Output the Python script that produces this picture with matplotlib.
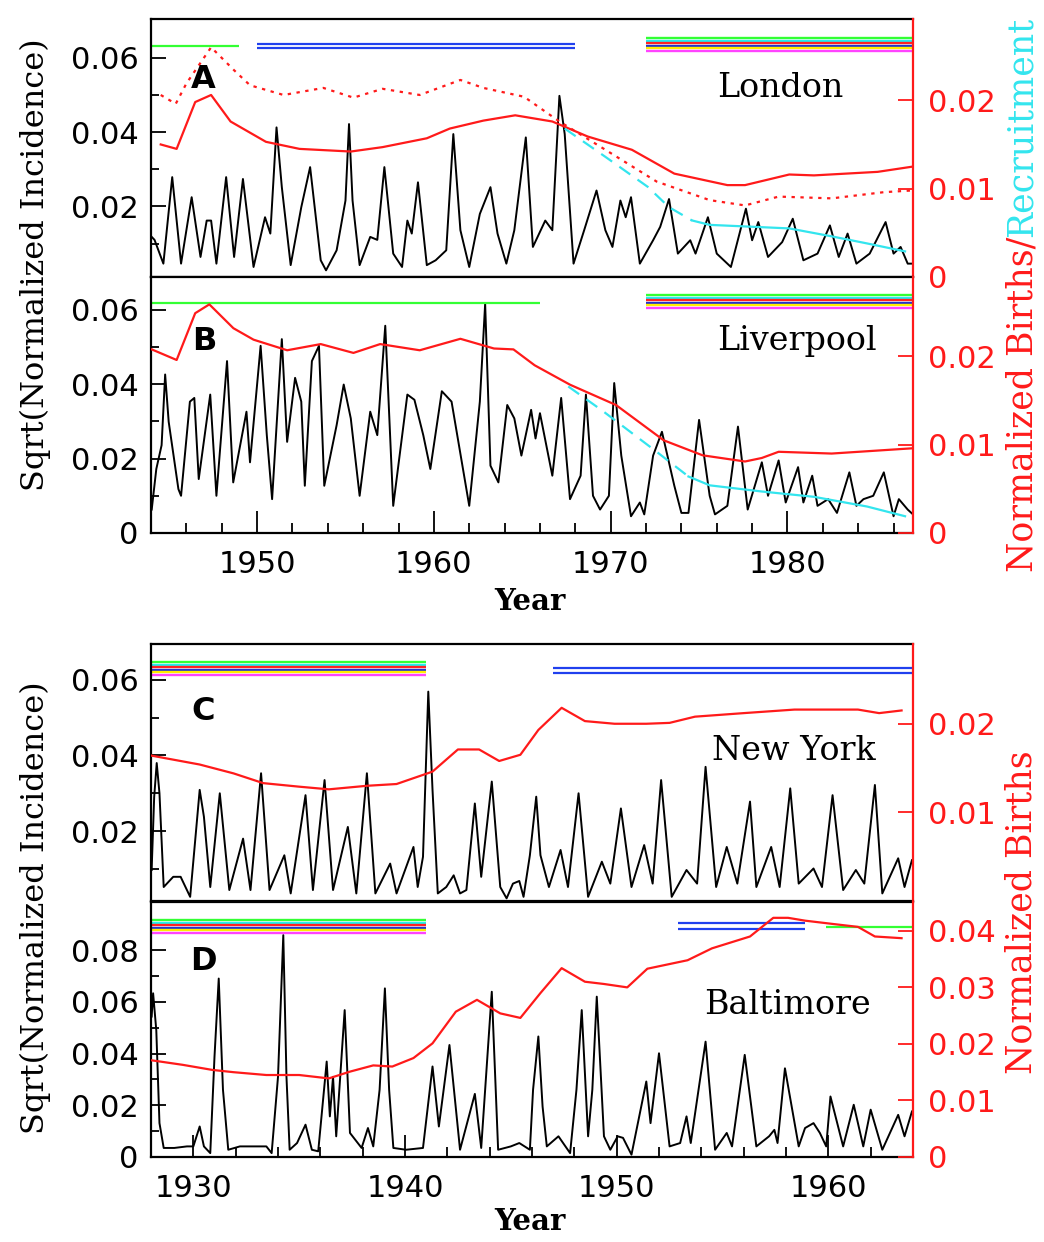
import matplotlib
matplotlib.use("Agg")
import matplotlib.pyplot as plt
from matplotlib.ticker import MultipleLocator, FixedLocator, FuncFormatter
from matplotlib.transforms import blended_transform_factory

# ---------------- data ----------------
# sqrt(normalized incidence), key points of each biweekly series
london_inc = [
    (1944.04, 0.0118), (1944.2, 0.011), (1944.7, 0.0046), (1945.2, 0.0279), (1945.7, 0.0046),
    (1946.3, 0.0225), (1946.8, 0.0064), (1947.15, 0.0162), (1947.4, 0.0162), (1947.7, 0.0046),
    (1948.25, 0.0279), (1948.7, 0.0064), (1949.2, 0.0274), (1949.8, 0.0037), (1950.45, 0.0171),
    (1950.75, 0.0127), (1951.1, 0.0413), (1951.4, 0.0252), (1951.9, 0.0042), (1952.5, 0.0198),
    (1953.0, 0.0306), (1953.6, 0.0055), (1953.9, 0.0028), (1954.5, 0.0082), (1955.0, 0.0216),
    (1955.2, 0.0422), (1955.4, 0.0216), (1955.8, 0.0042), (1956.4, 0.0118), (1956.8, 0.011),
    (1957.2, 0.0306), (1957.7, 0.0073), (1958.2, 0.0037), (1958.5, 0.0162), (1958.75, 0.0127),
    (1959.1, 0.0265), (1959.6, 0.0042), (1960.1, 0.0055), (1960.7, 0.0082), (1961.1, 0.0395),
    (1961.5, 0.0136), (1962.0, 0.0037), (1962.6, 0.018), (1963.2, 0.0252), (1963.6, 0.0127),
    (1964.1, 0.0046), (1964.55, 0.0136), (1965.2, 0.0386), (1965.6, 0.0091), (1966.3, 0.0162),
    (1966.7, 0.0136), (1967.1, 0.0498), (1967.4, 0.0395), (1967.9, 0.0046), (1968.5, 0.0136),
    (1969.2, 0.0243), (1969.7, 0.0136), (1970.1, 0.0091), (1970.55, 0.0216), (1970.85, 0.0171),
    (1971.15, 0.0225), (1971.65, 0.0046), (1972.4, 0.0109), (1972.8, 0.0145), (1973.3, 0.022),
    (1973.8, 0.0073), (1974.5, 0.0109), (1974.8, 0.0073), (1975.5, 0.0171), (1976.0, 0.0073),
    (1976.8, 0.0037), (1977.65, 0.0194), (1978.0, 0.0109), (1978.35, 0.0158), (1978.9, 0.0064),
    (1979.7, 0.0104), (1980.3, 0.0167), (1980.9, 0.0055), (1981.7, 0.0073), (1982.4, 0.0149),
    (1982.9, 0.0064), (1983.4, 0.0127), (1983.9, 0.0046), (1984.65, 0.0073), (1985.55, 0.0158),
    (1986.0, 0.0073), (1986.4, 0.0091), (1986.8, 0.0046), (1987.1, 0.0046),
]
liverpool_inc = [
    (1944.04, 0.0063), (1944.3, 0.0172), (1944.6, 0.0236), (1944.8, 0.0426), (1945.0, 0.0299),
    (1945.55, 0.0118), (1945.7, 0.01), (1946.2, 0.0353), (1946.45, 0.0363), (1946.7, 0.0145),
    (1947.35, 0.0372), (1947.7, 0.01), (1948.3, 0.0462), (1948.65, 0.0136), (1949.4, 0.0326),
    (1949.6, 0.019), (1950.2, 0.0503), (1950.55, 0.0263), (1950.85, 0.0091), (1951.4, 0.0521),
    (1951.7, 0.0245), (1952.15, 0.0417), (1952.5, 0.0353), (1952.7, 0.0127), (1953.1, 0.0462),
    (1953.5, 0.0503), (1953.8, 0.0127), (1954.5, 0.029), (1954.9, 0.0399), (1955.3, 0.0308),
    (1955.8, 0.01), (1956.4, 0.0326), (1956.8, 0.0263), (1957.25, 0.0557), (1957.7, 0.0073),
    (1958.5, 0.0372), (1958.9, 0.0358), (1959.4, 0.0263), (1959.8, 0.0172), (1960.45, 0.0381),
    (1961.0, 0.0353), (1962.0, 0.0073), (1962.6, 0.0353), (1962.9, 0.0616), (1963.2, 0.0181),
    (1963.65, 0.0136), (1964.15, 0.0344), (1964.55, 0.0308), (1964.95, 0.0208), (1965.5, 0.0331),
    (1965.75, 0.0254), (1966.0, 0.0322), (1966.7, 0.0154), (1967.2, 0.0363), (1967.7, 0.0091),
    (1968.3, 0.0154), (1968.6, 0.0372), (1969.0, 0.01), (1969.4, 0.0063), (1969.9, 0.01),
    (1970.2, 0.0403), (1970.6, 0.0208), (1971.15, 0.0045), (1971.65, 0.0082), (1971.9, 0.005),
    (1972.4, 0.0208), (1972.9, 0.0272), (1973.6, 0.0127), (1974.0, 0.0054), (1974.4, 0.0054),
    (1975.0, 0.0304), (1975.6, 0.01), (1975.9, 0.005), (1976.6, 0.0073), (1977.2, 0.0286),
    (1977.75, 0.0063), (1978.55, 0.019), (1978.9, 0.01), (1979.5, 0.0195), (1979.9, 0.0082),
    (1980.6, 0.0177), (1980.9, 0.0082), (1981.4, 0.0154), (1981.7, 0.0073), (1982.3, 0.0091),
    (1982.8, 0.0054), (1983.5, 0.0163), (1983.9, 0.0073), (1984.3, 0.0091), (1984.85, 0.01),
    (1985.45, 0.0163), (1986.0, 0.0045), (1986.3, 0.0091), (1986.8, 0.0063), (1987.1, 0.005),
]
newyork_inc = [
    (1928.03, 0.0097), (1928.15, 0.029), (1928.27, 0.038), (1928.4, 0.03), (1928.6, 0.0052),
    (1929.05, 0.0079), (1929.4, 0.0079), (1929.85, 0.0026), (1930.3, 0.0309), (1930.5, 0.0238),
    (1930.8, 0.0052), (1931.25, 0.03), (1931.7, 0.0044), (1932.35, 0.018), (1932.7, 0.0044),
    (1933.2, 0.0353), (1933.6, 0.0044), (1934.3, 0.0136), (1934.6, 0.0035), (1935.3, 0.0295),
    (1935.65, 0.0044), (1936.2, 0.0335), (1936.6, 0.0044), (1937.3, 0.0211), (1937.7, 0.0035),
    (1938.2, 0.0353), (1938.6, 0.0035), (1939.3, 0.0114), (1939.6, 0.0035), (1940.4, 0.0158),
    (1940.6, 0.0052), (1940.85, 0.0132), (1941.1, 0.0569), (1941.3, 0.0309), (1941.55, 0.0035),
    (1941.95, 0.0052), (1942.3, 0.0083), (1942.6, 0.0035), (1942.9, 0.0044), (1943.3, 0.0273),
    (1943.6, 0.0079), (1944.1, 0.0331), (1944.5, 0.0052), (1944.8, 0.0022), (1945.1, 0.0061),
    (1945.4, 0.0068), (1945.6, 0.0026), (1945.9, 0.0136), (1946.2, 0.0291), (1946.4, 0.0136),
    (1946.8, 0.0052), (1947.35, 0.015), (1947.7, 0.0052), (1948.2, 0.03), (1948.65, 0.0026),
    (1949.3, 0.0119), (1949.7, 0.0061), (1950.2, 0.026), (1950.7, 0.0052), (1951.3, 0.0163),
    (1951.7, 0.0061), (1952.1, 0.0335), (1952.6, 0.0026), (1953.3, 0.0097), (1953.8, 0.0061),
    (1954.2, 0.037), (1954.7, 0.0052), (1955.2, 0.0158), (1955.7, 0.0061), (1956.3, 0.0278),
    (1956.6, 0.0052), (1957.3, 0.0158), (1957.7, 0.0052), (1958.2, 0.0313), (1958.6, 0.0061),
    (1959.3, 0.0101), (1959.7, 0.0052), (1960.2, 0.0295), (1960.7, 0.0044), (1961.3, 0.0097),
    (1961.7, 0.0061), (1962.2, 0.0322), (1962.55, 0.0035), (1963.3, 0.0128), (1963.6, 0.0052),
    (1963.95, 0.0123),
]
baltimore_inc = [
    (1928.03, 0.0543), (1928.1, 0.0633), (1928.25, 0.049), (1928.4, 0.0131), (1928.6, 0.0035),
    (1929.1, 0.0035), (1929.7, 0.0041), (1930.0, 0.0041), (1930.3, 0.0118), (1930.5, 0.0041),
    (1930.8, 0.0015), (1931.0, 0.0388), (1931.2, 0.069), (1931.4, 0.026), (1931.65, 0.0028),
    (1932.2, 0.0041), (1932.8, 0.0041), (1933.45, 0.0041), (1933.7, 0.0015), (1934.0, 0.031),
    (1934.25, 0.0858), (1934.4, 0.031), (1934.55, 0.0028), (1934.9, 0.0054), (1935.3, 0.0125),
    (1935.6, 0.0028), (1935.9, 0.0022), (1936.3, 0.0369), (1936.45, 0.0157), (1936.6, 0.031),
    (1936.75, 0.008), (1937.15, 0.0568), (1937.4, 0.0093), (1937.95, 0.0035), (1938.25, 0.0112),
    (1938.5, 0.0041), (1938.8, 0.026), (1939.05, 0.0652), (1939.25, 0.026), (1939.45, 0.0035),
    (1940.05, 0.0028), (1940.85, 0.0035), (1941.3, 0.035), (1941.6, 0.0118), (1942.1, 0.0433),
    (1942.6, 0.0028), (1943.3, 0.0244), (1943.6, 0.0035), (1944.1, 0.0639), (1944.4, 0.0028),
    (1945.0, 0.0041), (1945.4, 0.0054), (1945.9, 0.0028), (1946.05, 0.026), (1946.3, 0.0466),
    (1946.5, 0.0195), (1946.7, 0.0041), (1947.25, 0.008), (1947.8, 0.0015), (1948.1, 0.026),
    (1948.35, 0.0568), (1948.65, 0.008), (1948.85, 0.026), (1949.06, 0.062), (1949.4, 0.008),
    (1949.7, 0.0028), (1950.05, 0.008), (1950.3, 0.0074), (1950.7, 0.0009), (1951.4, 0.0292),
    (1951.6, 0.0131), (1952.0, 0.0401), (1952.5, 0.0041), (1953.0, 0.0054), (1953.3, 0.0157),
    (1953.5, 0.0054), (1954.2, 0.0446), (1954.65, 0.0028), (1955.2, 0.0093), (1955.45, 0.0041),
    (1956.05, 0.0395), (1956.6, 0.0041), (1957.2, 0.008), (1957.45, 0.0105), (1957.6, 0.0054),
    (1957.95, 0.0343), (1958.6, 0.0041), (1958.9, 0.0112), (1959.3, 0.0131), (1959.6, 0.0093),
    (1959.9, 0.0041), (1960.1, 0.0234), (1960.7, 0.0041), (1961.2, 0.0202), (1961.65, 0.0041),
    (1962.0, 0.0183), (1962.55, 0.0028), (1963.3, 0.0163), (1963.6, 0.008), (1963.95, 0.0176),
]

# normalized births (right axis)
london_births = [
    (1944.55, 0.0150), (1945.45, 0.0145), (1946.5, 0.0198), (1947.4, 0.0206), (1948.5, 0.0176),
    (1950.5, 0.0153), (1952.4, 0.0145), (1955.3, 0.0142), (1957.1, 0.0147), (1959.6, 0.0157),
    (1960.9, 0.0168), (1962.8, 0.0177), (1964.6, 0.0183), (1966.7, 0.0176), (1968.7, 0.0159),
    (1971.2, 0.0144), (1973.6, 0.0117), (1976.6, 0.0104), (1977.6, 0.0104), (1980.1, 0.0116),
    (1981.5, 0.0115), (1985.1, 0.0119), (1987.1, 0.0125),
]
london_births2 = [
    (1944.55, 0.0206), (1945.4, 0.0196), (1946.0, 0.0219), (1947.4, 0.0260), (1948.7, 0.0234),
    (1949.6, 0.0217), (1951.5, 0.0206), (1953.75, 0.0214), (1955.45, 0.0203), (1957.1, 0.0213),
    (1959.2, 0.0206), (1961.5, 0.0223), (1962.8, 0.0214), (1965.1, 0.0204), (1967.1, 0.0176),
    (1969.7, 0.0144), (1972.6, 0.0108), (1975.6, 0.0087), (1977.6, 0.0081), (1979.5, 0.0091),
    (1982.5, 0.0089), (1985.45, 0.0096), (1987.1, 0.0098),
]
london_recruit = [
    (1967.4, 0.0168), (1969.7, 0.0136), (1972.1, 0.0102), (1973.3, 0.0079), (1974.6, 0.0064),
    (1975.6, 0.0059), (1980.1, 0.0055), (1982.5, 0.0046), (1984.5, 0.0038), (1986.65, 0.0029),
]
liverpool_births = [
    (1944.04, 0.0208), (1945.45, 0.0196), (1946.5, 0.0249), (1947.3, 0.0259), (1948.66, 0.0232),
    (1949.8, 0.0219), (1951.7, 0.0207), (1953.6, 0.0214), (1955.45, 0.0204), (1956.96, 0.0214),
    (1959.2, 0.0207), (1961.5, 0.0220), (1963.4, 0.0209), (1964.5, 0.0208), (1965.7, 0.0190),
    (1967.7, 0.0168), (1970.3, 0.0145), (1973.0, 0.0105), (1975.2, 0.0088), (1977.6, 0.0081),
    (1978.55, 0.0085), (1979.5, 0.0092), (1982.5, 0.0090), (1987.1, 0.0096),
]
liverpool_recruit = [
    (1967.6, 0.0166), (1969.5, 0.0139), (1972.6, 0.0092), (1974.4, 0.0064), (1975.6, 0.0054),
    (1978.55, 0.0047), (1981.5, 0.0041), (1984.5, 0.0030), (1986.65, 0.0019),
]
newyork_births = [
    (1928.03, 0.0164), (1930.3, 0.0154), (1931.9, 0.0144), (1933.3, 0.0133), (1935.0, 0.0129),
    (1936.4, 0.0126), (1938.2, 0.0130), (1939.6, 0.0132), (1941.3, 0.0146), (1942.5, 0.0171),
    (1943.5, 0.0171), (1944.45, 0.0158), (1945.45, 0.0165), (1946.3, 0.0193), (1947.4, 0.0218),
    (1948.5, 0.0203), (1949.9, 0.0200), (1951.4, 0.0200), (1952.5, 0.0201), (1953.7, 0.0208),
    (1956.0, 0.0212), (1958.4, 0.0216), (1961.4, 0.0216), (1962.4, 0.0212), (1963.46, 0.0215),
]
baltimore_births = [
    (1928.03, 0.0171), (1929.5, 0.0163), (1930.9, 0.0154), (1931.9, 0.0150), (1933.45, 0.0145),
    (1935.0, 0.0145), (1936.4, 0.0139), (1937.4, 0.0151), (1938.5, 0.0162), (1939.4, 0.0160),
    (1940.4, 0.0175), (1941.3, 0.0201), (1942.4, 0.0257), (1943.4, 0.0278), (1944.5, 0.0254),
    (1945.45, 0.0246), (1946.4, 0.0290), (1947.4, 0.0334), (1948.5, 0.0310), (1949.4, 0.0306),
    (1950.5, 0.0300), (1951.45, 0.0333), (1953.35, 0.0348), (1954.5, 0.0369), (1956.3, 0.0390),
    (1957.4, 0.0423), (1958.1, 0.0423), (1958.9, 0.0418), (1960.25, 0.0412), (1961.4, 0.0407),
    (1962.2, 0.0390), (1963.46, 0.0387),
]

# significant-period bands (start year, end year)
london_bands = [("g", 1944.0, 1949.0), ("b2", 1950.0, 1968.0), ("stack", 1972.0, 1987.1)]
liverpool_bands = [("g", 1944.0, 1966.0), ("stack", 1972.0, 1987.1)]
newyork_bands = [("stack", 1928.0, 1941.0), ("b2", 1947.0, 1964.0)]
baltimore_bands = [("stack", 1928.0, 1941.0), ("b2", 1952.9, 1958.9), ("g", 1959.9, 1964.0)]

# ---------------- figure ----------------
W, H = 1044, 1242
fig = plt.figure(figsize=(W / 100, H / 100), dpi=100)
fig.patch.set_facecolor("white")

SANS = "DejaVu Sans"
SERIF = "DejaVu Serif"
RED = "#ff1a1a"
CYAN = "#33e5ee"
GREEN = "#33ff33"
BLUE = "#2040ee"
STACK = [GREEN, "#22eef2", "#ff2222", "#2233cc", "#ffee00", "#ff44ff"]


def fpos(x, y):
    return x / W, 1 - y / H


def make_axes(top, bottom):
    return fig.add_axes([151 / W, 1 - bottom / H, (913 - 151) / W, (bottom - top) / H])


def rfmt(v, _):
    return "0" if abs(v) < 1e-9 else "%.2f" % v


def setup(ax, xlim, ylim, yticks, yminor, rlim, rticks, show_x):
    ax.set_xlim(*xlim)
    ax.set_ylim(*ylim)
    ax.yaxis.set_major_locator(FixedLocator(yticks))
    ax.yaxis.set_minor_locator(FixedLocator(yminor))
    ax.yaxis.set_major_formatter(FuncFormatter(rfmt))
    ax.xaxis.set_major_locator(MultipleLocator(10))
    ax.xaxis.set_minor_locator(MultipleLocator(2))
    ax.tick_params(axis="y", which="both", direction="in", right=False, labelsize=22,
                   pad=9, width=1.3)
    ax.tick_params(axis="y", which="major", length=11)
    ax.tick_params(axis="y", which="minor", length=6)
    ax.tick_params(axis="x", which="both", direction="in", top=False, bottom=show_x,
                   labelbottom=show_x, labelsize=22, pad=12, width=1.3)
    ax.tick_params(axis="x", which="major", length=16)
    ax.tick_params(axis="x", which="minor", length=7)
    for lab in ax.get_xticklabels() + ax.get_yticklabels():
        lab.set_fontfamily(SANS)
    for s in ["left", "top", "bottom"]:
        ax.spines[s].set_linewidth(1.6)
    ax.spines["right"].set_visible(False)

    ax2 = ax.twinx()
    ax2.set_ylim(*rlim)
    ax2.yaxis.set_major_locator(FixedLocator(rticks))
    ax2.yaxis.set_minor_locator(FixedLocator([]))
    ax2.yaxis.set_major_formatter(FuncFormatter(rfmt))
    ax2.tick_params(axis="y", direction="in", length=11, width=1.3, colors=RED,
                    labelsize=22, pad=11)
    for lab in ax2.get_yticklabels():
        lab.set_fontfamily(SANS)
    for s in ["left", "top", "bottom"]:
        ax2.spines[s].set_visible(False)
    ax2.spines["right"].set_color(RED)
    ax2.spines["right"].set_linewidth(1.6)
    return ax2


def draw_bands(ax, bands, ypos):
    tr = blended_transform_factory(ax.transData, ax.transAxes)
    for kind, x0, x1 in bands:
        if kind == "g":
            ax.plot([x0, x1], [ypos["g"]] * 2, color=GREEN, lw=1.6, transform=tr,
                    solid_capstyle="butt", clip_on=False)
        elif kind == "b2":
            for yy in ypos["b2"]:
                ax.plot([x0, x1], [yy] * 2, color=BLUE, lw=1.6, transform=tr,
                        solid_capstyle="butt", clip_on=False)
        else:
            y0 = ypos["stack"]
            for i, c in enumerate(STACK):
                yy = y0 - i * 0.0098
                ax.plot([x0, x1], [yy] * 2, color=c, lw=1.7, transform=tr,
                        solid_capstyle="butt", clip_on=False)


def xs(pairs):
    return [p[0] for p in pairs], [p[1] for p in pairs]


# ---- panel A: London ----
axA = make_axes(19, 277)
axA2 = setup(axA, (1944.0, 1987.1), (0.001, 0.0705), [0.02, 0.04, 0.06], [0.01, 0.03, 0.05],
             (0, 0.0292), [0, 0.01, 0.02], False)
axA.plot(*xs(london_inc), color="black", lw=1.4)
axA2.plot(*xs(london_births), color=RED, lw=1.6)
axA2.plot(*xs(london_births2), color=RED, lw=1.6, ls=(0, (1.5, 2.5)))
rx, ry = xs(london_recruit)
axA2.plot(rx[:5], ry[:5], color=CYAN, lw=1.6, ls=(0, (6, 4)))
axA2.plot(rx[4:], ry[4:], color=CYAN, lw=1.6)
draw_bands(axA, london_bands, {"g": 0.895, "b2": [0.903, 0.888], "stack": 0.926})

# ---- panel B: Liverpool ----
axB = make_axes(277, 533)
axB2 = setup(axB, (1944.0, 1987.1), (0, 0.0688), [0, 0.02, 0.04, 0.06], [0.01, 0.03, 0.05],
             (0, 0.029), [0, 0.01, 0.02], True)
axB.plot(*xs(liverpool_inc), color="black", lw=1.4)
axB2.plot(*xs(liverpool_births), color=RED, lw=1.6)
rx, ry = xs(liverpool_recruit)
axB2.plot(rx[:4], ry[:4], color=CYAN, lw=1.6, ls=(0, (6, 4)))
axB2.plot(rx[3:], ry[3:], color=CYAN, lw=1.6)
draw_bands(axB, liverpool_bands, {"g": 0.898, "stack": 0.928})

# ---- panel C: New York ----
axC = make_axes(644, 901)
axC2 = setup(axC, (1928.0, 1964.0), (0.0015, 0.0695), [0.02, 0.04, 0.06], [0.01, 0.03, 0.05],
             (0, 0.029), [0.01, 0.02], False)
axC.plot(*xs(newyork_inc), color="black", lw=1.4)
axC2.plot(*xs(newyork_births), color=RED, lw=1.6)
draw_bands(axC, newyork_bands, {"b2": [0.908, 0.887], "stack": 0.930})

# ---- panel D: Baltimore ----
axD = make_axes(902, 1157)
axD2 = setup(axD, (1928.0, 1964.0), (0, 0.0986), [0, 0.02, 0.04, 0.06, 0.08],
             [0.01, 0.03, 0.05, 0.07, 0.09], (0, 0.0451), [0, 0.01, 0.02, 0.03, 0.04], True)
axD.plot(*xs(baltimore_inc), color="black", lw=1.4)
axD2.plot(*xs(baltimore_births), color=RED, lw=1.6)
draw_bands(axD, baltimore_bands, {"g": 0.903, "b2": [0.918, 0.895], "stack": 0.929})

# ---- panel letters and city names ----
for letter, (x, y) in [("A", (203, 80)), ("B", (204, 342)), ("C", (203, 712)), ("D", (203, 961))]:
    fig.text(*fpos(x, y), letter, fontsize=23, fontweight="bold", family=SANS,
             ha="center", va="center")
for name, (x, y) in [("London", (780, 88)), ("Liverpool", (797, 341)),
                     ("New York", (794, 751)), ("Baltimore", (788, 1005))]:
    fig.text(*fpos(x, y), name, fontsize=24, family=SERIF, ha="center", va="center")

# ---- axis labels ----
fig.text(*fpos(35, 265), "Sqrt(Normalized Incidence)", rotation=90, fontsize=23,
         family=SERIF, ha="center", va="center")
fig.text(*fpos(35, 908), "Sqrt(Normalized Incidence)", rotation=90, fontsize=23,
         family=SERIF, ha="center", va="center")
fig.text(*fpos(530, 602), "Year", fontsize=21, fontweight="bold", family=SERIF,
         ha="center", va="center")
fig.text(*fpos(530, 1222), "Year", fontsize=21, fontweight="bold", family=SERIF,
         ha="center", va="center")

t_red = fig.text(*fpos(1022, 572), "Normalized Births/", rotation=90, fontsize=25,
                 family=SERIF, color=RED, ha="center", va="bottom")
fig.canvas.draw()
bb = t_red.get_window_extent()
fig.text(1022 / W, bb.y1 / H, "Recruitment", rotation=90, fontsize=25, family=SERIF,
         color=CYAN, ha="center", va="bottom")
fig.text(*fpos(1022, 912), "Normalized Births", rotation=90, fontsize=25, family=SERIF,
         color=RED, ha="center", va="center")

fig.savefig("out.png", dpi=100)
